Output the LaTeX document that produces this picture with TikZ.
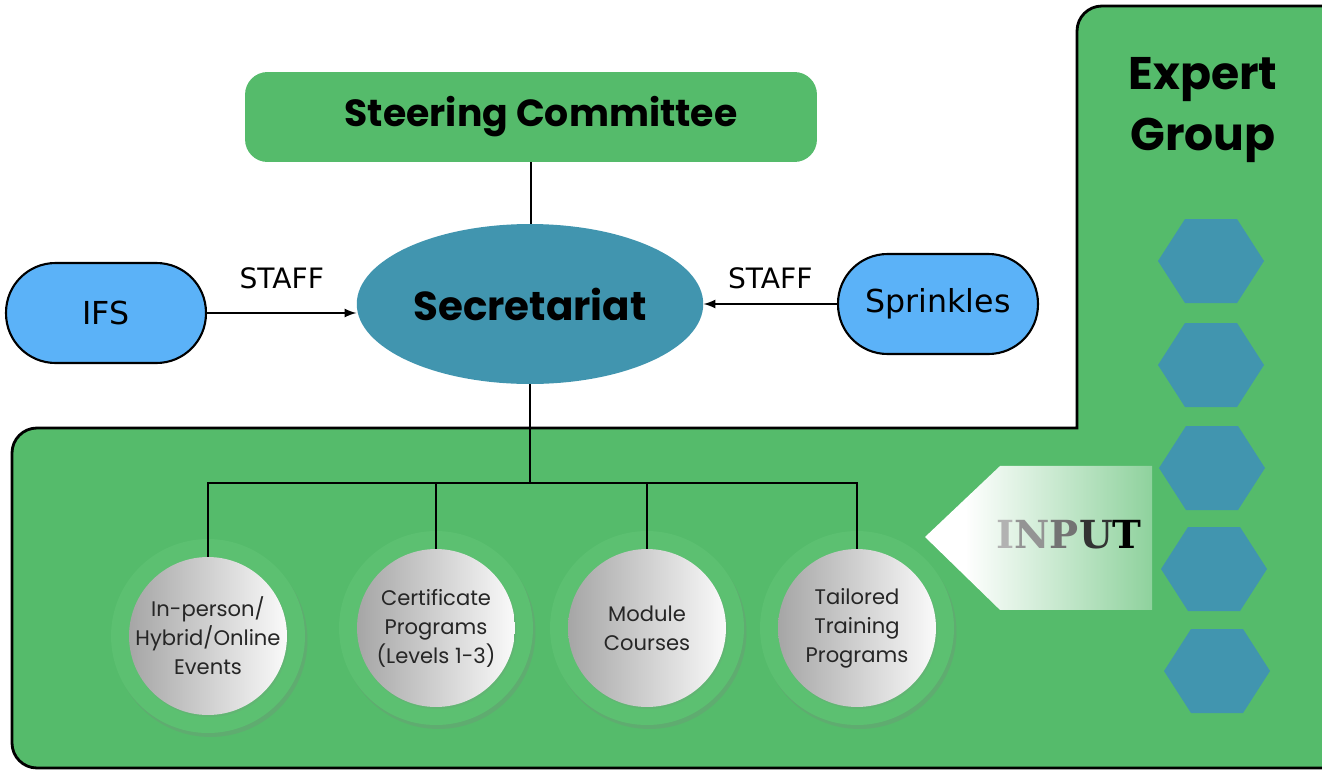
\documentclass[tikz,border=0pt]{standalone}
\usepackage{fontspec}
\setmainfont{Poppins}
\newfontfamily\stafffont{DejaVu Sans}
\newfontfamily\slabfont{DejaVu Serif}
\usepackage{tikz}
\usetikzlibrary{%
	positioning,%
	calc,%
	arrows,%
	shapes,%
	shadows,%
	fadings
}

\definecolor{expgreen}{HTML}{55BB6B}
\definecolor{ringgreen}{HTML}{5CC071}
\definecolor{secblue}{HTML}{4195AF}
\definecolor{pillblue}{HTML}{5BB2F8}
\pgfdeclarehorizontalshading{inputmask}{100bp}{rgb(0bp)=(1,1,1); rgb(34bp)=(1,1,1); rgb(96bp)=(0,0,0); rgb(100bp)=(0,0,0)}
\pgfdeclarefading{inputfade}{\pgfuseshading{inputmask}}

\begin{document}
\begin{tikzpicture}[x=0.02cm,y=-0.02cm,
	line/.style={line width=1.3pt},
	pill/.style={draw=black,line width=1.2pt,fill=pillblue,rounded corners=0.99cm,minimum width=4cm,minimum height=2cm,font=\stafffont\fontsize{18}{21}\selectfont},
	stafflabel/.style={font=\stafffont\fontsize{16}{19}\selectfont},
	ring/.style={circle,fill=ringgreen,inner sep=0pt,minimum size=3.88cm,drop shadow={opacity=0.25,shadow xshift=0.05cm,shadow yshift=-0.08cm}},
	disc/.style={circle,left color=black!35,right color=black!2,inner sep=0pt,minimum size=3.16cm,drop shadow={opacity=0.15,shadow xshift=0.03cm,shadow yshift=-0.04cm}},
	disctext/.style={align=center,text=black!85,font=\fontsize{12}{16.5}\selectfont}
]
	\useasboundingbox (0,0) rectangle (1322,771);
	\clip (0,0) rectangle (1322,771);

	% Green background (L shape)
	\draw[fill=expgreen,line width=1.6pt] (1345,6) [rounded corners=0.5cm] -- (1077,6) [sharp corners] -- (1077,428) [rounded corners=0.5cm] -- (12,428) -- (12,768) [sharp corners] -- (1345,768);

	% Top nodes
	\node[fill=expgreen,rounded corners=0.45cm,minimum width=11.44cm,minimum height=1.8cm,font=\bfseries\fontsize{21.5}{26}\selectfont] (steer) at (531,117) {\hspace*{0.4cm}Steering Committee};
	\node[ellipse,fill=secblue,minimum width=6.92cm,minimum height=3.2cm,font=\bfseries\fontsize{23}{28}\selectfont] (sec) at (530,304) {Secretariat};
	\node[pill] (ifs) at (106,313) {IFS};
	\node[pill] (spr) at (938,304) {Sprinkles};

	% Connections
	\draw[line] (steer.south) -- (steer.south |- sec.north);
	\draw[line,-latex] (ifs.east) -- (ifs.east -| sec.west) node[midway,above=0.35cm,stafflabel] {STAFF};
	\draw[line,-latex] (spr.west) -- (spr.west -| sec.east) node[midway,above=0.17cm,stafflabel] {STAFF};

	% Programme circles
	\node[ring] (r1) at (208,636) {};
	\node[disc] (c1) at (r1) {};
	\node[disctext] (t1) at (c1) {In-person/\\Hybrid/Online\\Events};
	\node[ring] (r2) at (436,628) {};
	\node[disc] (c2) at (r2) {};
	\node[disctext] (t2) at (c2) {Certificate\\Programs\\(Levels 1-3)};
	\node[ring] (r3) at (647,628) {};
	\node[disc] (c3) at (r3) {};
	\node[disctext] (t3) at (c3) {Module\\Courses};
	\node[ring] (r4) at (857,628) {};
	\node[disc] (c4) at (r4) {};
	\node[disctext] (t4) at (c4) {Tailored\\Training\\Programs};

	% Tree below secretariat
	\path (sec.south) ++(0,99) coordinate (bus);
	\draw[line] (sec.south) -- (bus);
	\draw[line] (c1.north) |- (bus) -| (c4.north);
	\foreach \c in {c2,c3}
	\draw[line] (\c.north) -- (\c.north |- bus);

	% Input arrow
	\fill[white,path fading=inputfade] (925,537) -- (1000,466) -- (1152,466) -- (1152,610) -- (1000,610) -- cycle;
	\node[font=\slabfont\bfseries\fontsize{22}{26}\selectfont] (inp) at (1069,535) {\textcolor{black!30}{I}\textcolor{black!42}{N}\textcolor{black!55}{P}\textcolor{black!80}{U}\textcolor{black}{T}};

	% Expert group
	\node[align=center,font=\bfseries\fontsize{26}{35}\selectfont] (expert) at (1203,110) {Expert\\Group};
	\foreach \cx/\cy in {1211/261,1211/365,1212/468,1214/569,1217/671}
	\fill[secblue] ({\cx-53},\cy) -- ({\cx-26},{\cy-42}) -- ({\cx+26},{\cy-42}) -- ({\cx+53},\cy) -- ({\cx+26},{\cy+42}) -- ({\cx-26},{\cy+42}) -- cycle;
\end{tikzpicture}
\end{document}
